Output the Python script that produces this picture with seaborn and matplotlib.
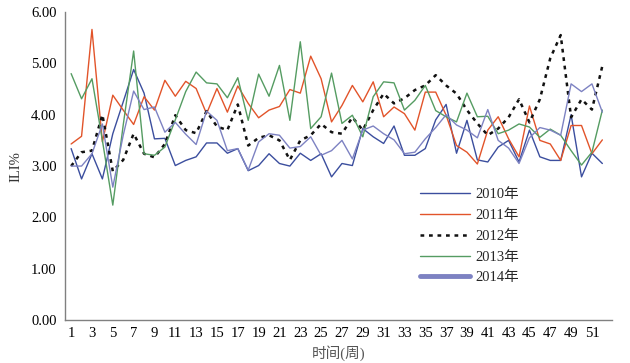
import matplotlib
matplotlib.use("Agg")
import matplotlib.pyplot as plt
import pandas as pd
import seaborn as sns

# weekly ILI% values
weeks = list(range(1, 53))
ili_2010 = [3.34, 2.75, 3.24, 2.75, 3.63, 4.25, 4.88, 4.42, 3.53, 3.54,
            3.01, 3.11, 3.18, 3.45, 3.45, 3.25, 3.34, 2.91, 3.01, 3.24,
            3.05, 3.00, 3.25, 3.11, 3.24, 2.79, 3.05, 3.01, 3.73, 3.57,
            3.44, 3.78, 3.21, 3.21, 3.34, 3.90, 4.20, 3.25, 3.89, 3.12,
            3.08, 3.37, 3.50, 3.08, 3.70, 3.18, 3.11, 3.11, 4.00, 2.79,
            3.25, 3.05]
ili_2011 = [3.43, 3.58, 5.66, 3.47, 4.38, 4.09, 3.81, 4.35, 4.09, 4.67,
            4.36, 4.65, 4.51, 4.02, 4.51, 4.05, 4.56, 4.22, 3.94, 4.09,
            4.16, 4.49, 4.42, 5.14, 4.70, 3.86, 4.18, 4.57, 4.25, 4.64,
            3.96, 4.15, 4.02, 3.70, 4.44, 4.44, 3.99, 3.40, 3.27, 3.04,
            3.70, 3.96, 3.53, 3.18, 4.17, 3.50, 3.43, 3.11, 3.79, 3.79,
            3.24, 3.51]
ili_2012 = [3.00, 3.27, 3.30, 4.00, 2.90, 3.12, 3.63, 3.24, 3.17, 3.43,
            3.99, 3.70, 3.64, 4.07, 3.77, 3.70, 4.20, 3.40, 3.55, 3.60,
            3.50, 3.12, 3.50, 3.60, 3.82, 3.66, 3.63, 3.95, 3.70, 4.09,
            4.41, 4.22, 4.32, 4.48, 4.57, 4.77, 4.57, 4.41, 4.09, 3.83,
            3.60, 3.73, 3.95, 4.30, 3.85, 4.30, 5.10, 5.55, 3.95, 4.30,
            4.10, 4.95]
ili_2013 = [4.80, 4.31, 4.70, 3.50, 2.24, 3.80, 5.24, 3.24, 3.21, 3.37,
            3.90, 4.45, 4.83, 4.62, 4.60, 4.33, 4.72, 3.89, 4.79, 4.36,
            4.96, 3.89, 5.42, 3.73, 3.96, 4.81, 3.83, 3.99, 3.57, 4.35,
            4.64, 4.62, 4.09, 4.28, 4.57, 4.08, 3.96, 3.86, 4.42, 3.96,
            3.97, 3.63, 3.70, 3.82, 3.76, 3.56, 3.72, 3.60, 3.30, 3.02,
            3.27, 4.09]
ili_2014 = [3.00, 3.00, 3.24, 3.82, 2.59, 3.60, 4.46, 4.10, 4.15, 3.66,
            3.85, 3.62, 3.42, 4.07, 3.89, 3.30, 3.34, 2.92, 3.47, 3.63,
            3.60, 3.35, 3.38, 3.57, 3.21, 3.30, 3.50, 3.14, 3.70, 3.78,
            3.63, 3.51, 3.24, 3.27, 3.53, 3.75, 4.00, 3.80, 3.70, 3.55,
            4.10, 3.50, 3.35, 3.05, 3.55, 3.75, 3.70, 3.60, 4.60, 4.45,
            4.60, 4.05]

years = ["2010年", "2011年", "2012年", "2013年", "2014年"]
colors = ["#3b4e9e", "#e2542a", "#111111", "#559c62", "#7d82c2"]

sns.set_style("white")
plt.rcParams["font.family"] = ["Liberation Serif", "Noto Sans CJK SC"]

fig = plt.figure(figsize=(6.3, 3.63), dpi=100)
ax = fig.add_axes([0.103, 0.118, 0.868, 0.849])

series = [ili_2010, ili_2011, ili_2012, ili_2013, ili_2014]
for name, vals, col in zip(years, series, colors):
    df = pd.DataFrame({"week": weeks, "ili": vals})
    if name == "2012年":
        sns.lineplot(data=df, x="week", y="ili", ax=ax, color=col, lw=1.8,
                     linestyle=(0, (1.5, 1.9)), label=name)
    else:
        sns.lineplot(data=df, x="week", y="ili", ax=ax, color=col, lw=1.0,
                     label=name)

ax.set_xlim(0.4, 52.9)
ax.set_ylim(0, 6)
ax.set_xticks(weeks)
ax.set_xticklabels([str(w) if w % 2 == 1 else "" for w in weeks])
ax.set_yticks(range(0, 7))
ax.set_yticklabels(["%.2f" % v for v in range(0, 7)])
ax.tick_params(axis="both", direction="in", colors="#808080",
               labelcolor="black", labelsize=10.5)
ax.tick_params(axis="x", length=4, pad=5)
ax.tick_params(axis="y", length=5, pad=6)
for s in ["top", "right"]:
    ax.spines[s].set_visible(False)
for s in ["left", "bottom"]:
    ax.spines[s].set_color("#808080")
    ax.spines[s].set_linewidth(1.0)

ax.set_xlabel("时间(周)", fontsize=10.5, color="#555555", labelpad=4)
ax.set_ylabel("ILI%", fontsize=10.5, color="#333333", labelpad=6)

leg = ax.legend(loc="upper left", bbox_to_anchor=(0.667, 0.482),
                bbox_transform=fig.transFigure, frameon=False, fontsize=10.5,
                handlelength=3.4, handletextpad=0.35, labelspacing=0.52,
                borderpad=0, borderaxespad=0)
leg.get_lines()[4].set_linewidth(3.5)

fig.savefig("out.png", dpi=100)
